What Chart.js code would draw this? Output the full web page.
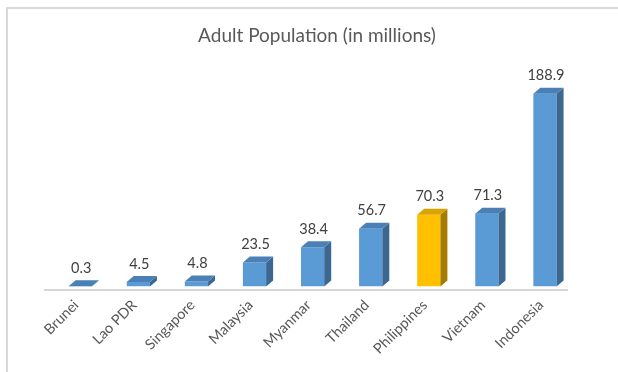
<!DOCTYPE html>
<html>
<head>
<meta charset="utf-8">
<script src="https://cdn.jsdelivr.net/npm/chart.js@4/dist/chart.umd.min.js"></script>
<style>
  html, body { margin: 0; padding: 0; background: #ffffff; }
  #wrap { position: relative; width: 618px; height: 372px; }
  canvas { display: block; }
</style>
</head>
<body>
<div id="wrap"><canvas id="c" width="618" height="372"></canvas></div>
<script>
// Adult population by country, in millions
const countries = ["Brunei", "Lao PDR", "Singapore", "Malaysia", "Myanmar", "Thailand", "Philippines", "Vietnam", "Indonesia"];
const adultPopulation = [0.3, 4.5, 4.8, 23.5, 38.4, 56.7, 70.3, 71.3, 188.9];
const highlightCountry = "Philippines";
const chartTitle = "Adult Population (in millions)";

const FONT = "Lato, 'Open Sans', sans-serif";

// Face colours for the 3D columns: front, side, top
const blueFaces = { front: "#5B9BD5", side: "#3C6791", top: "#4A80B6" };
const goldFaces = { front: "#FFC000", side: "#A67C00", top: "#D9A300" };
const facesFor = (name) => (name === highlightCountry ? goldFaces : blueFaces);

// Depth of the extruded columns
const DEPTH_X = 7;
const DEPTH_Y = 6;

// Frame, title, floor line, 3D faces and value labels
const columns3d = {
  id: "columns3d",
  beforeDraw(chart) {
    const ctx = chart.ctx;
    ctx.save();
    ctx.fillStyle = "#ffffff";
    ctx.fillRect(0, 0, chart.width, chart.height);
    // outer frame (top and left edges)
    ctx.strokeStyle = "#D9D9D9";
    ctx.lineWidth = 2;
    ctx.beginPath();
    ctx.moveTo(7, chart.height + 2);
    ctx.lineTo(7, 8);
    ctx.lineTo(chart.width + 2, 8);
    ctx.stroke();
    // title
    ctx.fillStyle = "#595959";
    ctx.font = "19px " + FONT;
    ctx.textAlign = "center";
    ctx.textBaseline = "middle";
    ctx.fillText(chartTitle, 317, 36);
    // floor line
    const area = chart.chartArea;
    ctx.strokeStyle = "#C9C9C9";
    ctx.lineWidth = 1.5;
    ctx.beginPath();
    ctx.moveTo(44, area.bottom + 3.5);
    ctx.lineTo(568, area.bottom + 3.5);
    ctx.stroke();
    ctx.restore();
  },
  afterDatasetsDraw(chart) {
    const ctx = chart.ctx;
    const meta = chart.getDatasetMeta(0);
    ctx.save();
    meta.data.forEach((bar, i) => {
      const p = bar.getProps(["x", "y", "base", "width"], true);
      const left = p.x - p.width / 2;
      const right = p.x + p.width / 2;
      const top = p.y;
      const base = p.base;
      const faces = facesFor(countries[i]);
      // side face
      ctx.fillStyle = faces.side;
      ctx.beginPath();
      ctx.moveTo(right, top);
      ctx.lineTo(right + DEPTH_X, top - DEPTH_Y);
      ctx.lineTo(right + DEPTH_X, base - DEPTH_Y);
      ctx.lineTo(right, base);
      ctx.closePath();
      ctx.fill();
      // top face
      ctx.fillStyle = faces.top;
      ctx.beginPath();
      ctx.moveTo(left, top);
      ctx.lineTo(left + DEPTH_X, top - DEPTH_Y);
      ctx.lineTo(right + DEPTH_X, top - DEPTH_Y);
      ctx.lineTo(right, top);
      ctx.closePath();
      ctx.fill();
      // value label
      ctx.fillStyle = "#404040";
      ctx.font = "14.5px " + FONT;
      ctx.textAlign = "center";
      ctx.textBaseline = "middle";
      ctx.fillText(adultPopulation[i].toFixed(1), p.x + 1, top - DEPTH_Y - 12);
    });
    ctx.restore();
  }
};

new Chart(document.getElementById("c"), {
  type: "bar",
  data: {
    labels: countries,
    datasets: [{
      data: adultPopulation,
      backgroundColor: countries.map(c => facesFor(c).front),
      borderWidth: 0,
      barPercentage: 0.4,
      categoryPercentage: 1.0
    }]
  },
  options: {
    responsive: false,
    animation: false,
    events: [],
    layout: { padding: { left: 51.2, right: 44, top: 82.5, bottom: 0 } },
    plugins: {
      legend: { display: false },
      title: { display: false },
      tooltip: { enabled: false }
    },
    scales: {
      x: {
        grid: { display: false, drawTicks: false },
        border: { display: false },
        afterFit: (scale) => { scale.height = 85.5; },
        ticks: {
          color: "#595959",
          font: { family: FONT, size: 14.5 },
          minRotation: 45,
          maxRotation: 45,
          padding: 10,
          labelOffset: -4,
          autoSkip: false
        }
      },
      y: {
        display: false,
        min: 0,
        max: 200
      }
    }
  },
  plugins: [columns3d]
});
</script>
</body>
</html>
